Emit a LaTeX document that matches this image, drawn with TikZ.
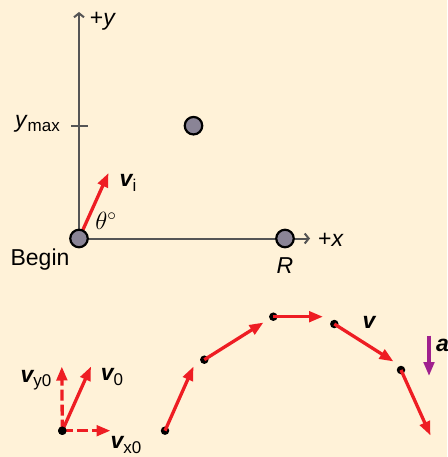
\documentclass[tikz,border=0pt]{standalone}
\usepackage{fontspec}
\setmainfont{Liberation Sans}
\usetikzlibrary{arrows.meta}
\definecolor{bgcream}{HTML}{FFF2D8}
\definecolor{vecred}{HTML}{EE1D23}
\definecolor{accpurple}{HTML}{A0208E}
\definecolor{ballgrey}{HTML}{8A8496}
\definecolor{axisgrey}{HTML}{555555}
\newcommand{\bv}[1]{{\bfseries\itshape #1}}
\newcommand{\lsub}[1]{\raisebox{-0.35ex}{\fontsize{17}{18}\selectfont #1}}
\tikzset{
  axisline/.style={axisgrey, line width=2pt},
  axtip/.style={-{Straight Barb[length=4pt,width=10pt,line width=2pt]}},
  vec/.style={vecred, line width=3.3pt, -{Triangle[length=14pt,width=10.5pt]}},
  dvec/.style={vec, dash pattern=on 11pt off 4pt},
  ball/.style={circle, draw=black, line width=2.2pt, fill=ballgrey, minimum size=17.5pt, inner sep=0pt},
  dot/.style={circle, fill=black, minimum size=8.5pt, inner sep=0pt},
  lbl/.style={inner sep=0pt, font=\fontsize{23}{26}\selectfont},
}
\begin{document}
\begin{tikzpicture}[x=1pt,y=-1pt]
\fill[bgcream] (0,0) rectangle (447,457);
\useasboundingbox (0,0) rectangle (447,457);

% ---- top diagram ----
\coordinate (O) at (79,238.5);
\coordinate (ytip) at (79,12);
\coordinate (xtip) at (310,238.5);
\coordinate (tickL) at (71,125.7);
\coordinate (tickR) at (88,125.7);
\coordinate (vitip) at (108.5,173);
\draw[axisline, axtip] (O) -- (ytip);
\draw[axisline, axtip] (O) -- (xtip);
\draw[axisline] (tickL) -- (tickR);
\draw[vec] (O) -- (vitip);
\node[ball] (begin) at (O) {};
\node[ball] (top) at (193.5,125.7) {};
\node[ball] (range) at (285,238.5) {};

\node[lbl] (ylab) at (103,21) {+\textit{y}};
\node[lbl, anchor=east] (ymaxlab) at (60,124) {\textit{y}\lsub{max}};
\node[lbl, anchor=west] (xlab) at (318,240) {+\textit{x}};
\node[lbl] (rlab) at (285,266) {\textit{R}};
\node[lbl] (beginlab) at (40,260) {Begin};
\node[lbl] (vilab) at (128,183) {\bv{v}\lsub{i}};
\node[lbl, font=\fontsize{27}{28}\selectfont] (thetalab) at (106,221) {$\theta^\circ$};

% ---- bottom diagram ----
\node[dot] (d0) at (62.3,430.7) {};
\coordinate (v0tip) at (91,366.5);
\coordinate (vy0tip) at (61.8,366.5);
\coordinate (vx0tip) at (110.5,430.7);
\draw[dvec] (d0.center) -- (vy0tip);
\draw[dvec] (d0.center) -- (vx0tip);
\draw[vec] (d0.center) -- (v0tip);
\node[dot] at (d0) {};

\node[dot] (d1) at (165,430.7) {};
\node[dot] (d2) at (204.3,359.7) {};
\node[dot] (d3) at (273.3,316.7) {};
\node[dot] (d4) at (334.3,324) {};
\node[dot] (d5) at (401,370) {};
\coordinate (e1) at (193.5,366.5);
\coordinate (e2) at (263.5,322.5);
\coordinate (e3) at (323,316.7);
\coordinate (e4) at (393.5,361.5);
\coordinate (e5) at (430.5,435.5);
\draw[vec] (d1.center) -- (e1);
\draw[vec] (d2.center) -- (e2);
\draw[vec] (d3.center) -- (e3);
\draw[vec] (d4.center) -- (e4);
\draw[vec] (d5.center) -- (e5);

\coordinate (atop) at (429,335.5);
\coordinate (abot) at (429,376);
\draw[accpurple, line width=3.3pt, -{Triangle[length=14pt,width=10.5pt]}] (atop) -- (abot);

\node[lbl] (vy0lab) at (36,380) {\bv{v}\lsub{y0}};
\node[lbl] (v0lab) at (112,377) {\bv{v}\lsub{0}};
\node[lbl] (vx0lab) at (126,445) {\bv{v}\lsub{x0}};
\node[lbl] (vlab) at (369,322) {\bv{v}};
\node[lbl, anchor=west] (alab) at (436,345) {\bv{a}};
\end{tikzpicture}
\end{document}
